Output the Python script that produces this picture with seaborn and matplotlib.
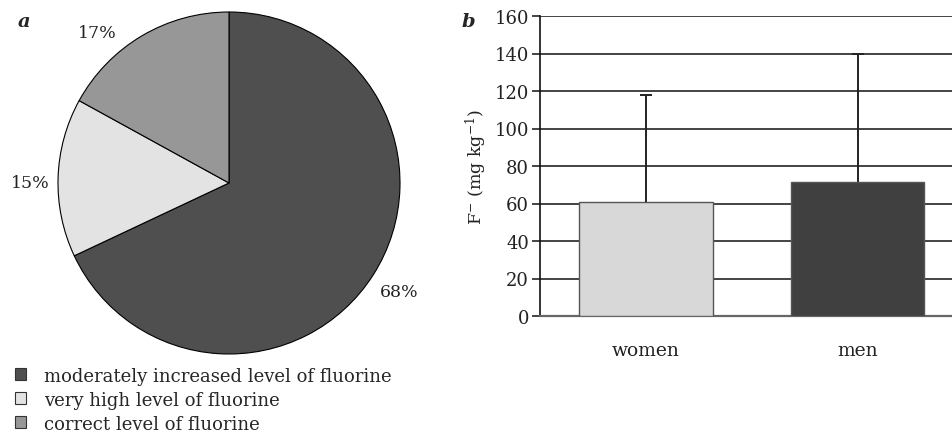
import matplotlib
matplotlib.use("Agg")
import matplotlib.pyplot as plt
import seaborn as sns
import pandas as pd
from matplotlib.patches import Patch

# Panel a: share of samples by fluorine level
levels = ["moderately increased level of fluorine",
          "very high level of fluorine",
          "correct level of fluorine"]
shares = [68, 15, 17]
pie_colors = ["#4f4f4f", "#e3e3e3", "#979797"]

# Panel b: mean fluoride content with standard deviation
groups = ["women", "men"]
means = [61, 71.5]
sds = [57, 68.5]
bar_colors = ["#d8d8d8", "#404040"]
yticks = [0, 20, 40, 60, 80, 100, 120, 140, 160]

sns.set_theme(style="white")
plt.rcParams["font.family"] = ["DejaVu Serif"]
plt.rcParams["mathtext.fontset"] = "dejavuserif"

W, H = 953, 435
fig = plt.figure(figsize=(W / 100, H / 100), dpi=100)
fig.patch.set_facecolor("white")

# ---- pie ----
cx, cy, r = 229, 184, 171
axp = fig.add_axes([(cx - r) / W, (H - cy - r) / H, 2 * r / W, 2 * r / H])
wedges, texts = axp.pie(shares, colors=pie_colors, startangle=90, counterclock=False,
                        labels=[f"{s}%" for s in shares], labeldistance=1.18,
                        wedgeprops=dict(edgecolor="black", linewidth=0.8),
                        textprops=dict(fontsize=12.5, color="#222222"))
for t in texts:
    t.set_ha("center")
    t.set_va("center")
# the small upper-left slice label sits above its wedge, near the rim
texts[2].set_position((-0.77, 0.88))
texts[1].set_position((-1.16, 0.0))
axp.set_xlim(-1, 1)
axp.set_ylim(-1, 1)
axp.set_aspect("auto")

handles = [Patch(facecolor=c, edgecolor="#333333", linewidth=0.8) for c in pie_colors]
fig.legend(handles, levels, loc="upper left", bbox_to_anchor=(0.002, 1 - 355 / H),
           frameon=False, fontsize=13, handlelength=0.65, handleheight=0.65,
           handletextpad=1.0, labelspacing=0.33, borderaxespad=0.3)

fig.text(18 / W, 1 - 22 / H, "a", fontsize=14, fontweight="bold", fontstyle="italic",
         va="center", ha="left")
fig.text(462 / W, 1 - 22 / H, "b", fontsize=14, fontweight="bold", fontstyle="italic",
         va="center", ha="left")

# ---- bars ----
left, bottom, top = 540, 317, 17
axb = fig.add_axes([left / W, (H - bottom) / H, (W - left) / W, (bottom - top) / H])
df = pd.DataFrame({"group": groups, "mean": means})
sns.barplot(data=df, x="group", y="mean", hue="group", palette=bar_colors,
            width=0.63, errorbar=None, legend=False, ax=axb, zorder=3,
            edgecolor="#555555", linewidth=1.0)
eb = axb.errorbar(range(len(groups)), means, yerr=[[0] * len(sds), sds], fmt="none",
                  ecolor="#222222", elinewidth=1.4, capsize=4.3, capthick=1.4, zorder=2)
# upper whisker only
eb.lines[1][0].set_visible(False)

axb.set_ylim(0, 160)
axb.set_xlim(-0.5, 1.45)
axb.set_yticks(yticks)
axb.yaxis.grid(True, color="#111111", linewidth=1.1)
axb.set_axisbelow(True)
for s in ["top", "right"]:
    axb.spines[s].set_visible(False)
axb.spines["left"].set_color("#111111")
axb.spines["left"].set_linewidth(1.2)
axb.spines["bottom"].set_color("#666666")
axb.spines["bottom"].set_linewidth(1.6)
axb.tick_params(axis="y", left=True, length=6, width=1.1, color="#111111",
                labelsize=13, pad=2)
axb.tick_params(axis="x", bottom=False, labelsize=13.5, pad=12)
for t in axb.get_yticklabels() + axb.get_xticklabels():
    t.set_color("#222222")
axb.set_xlabel("")
axb.set_ylabel(r"F$^{-}$ (mg kg$^{-1}$)", fontsize=12.5, color="#222222", labelpad=4)

fig.savefig("out.png", dpi=100, facecolor="white")
